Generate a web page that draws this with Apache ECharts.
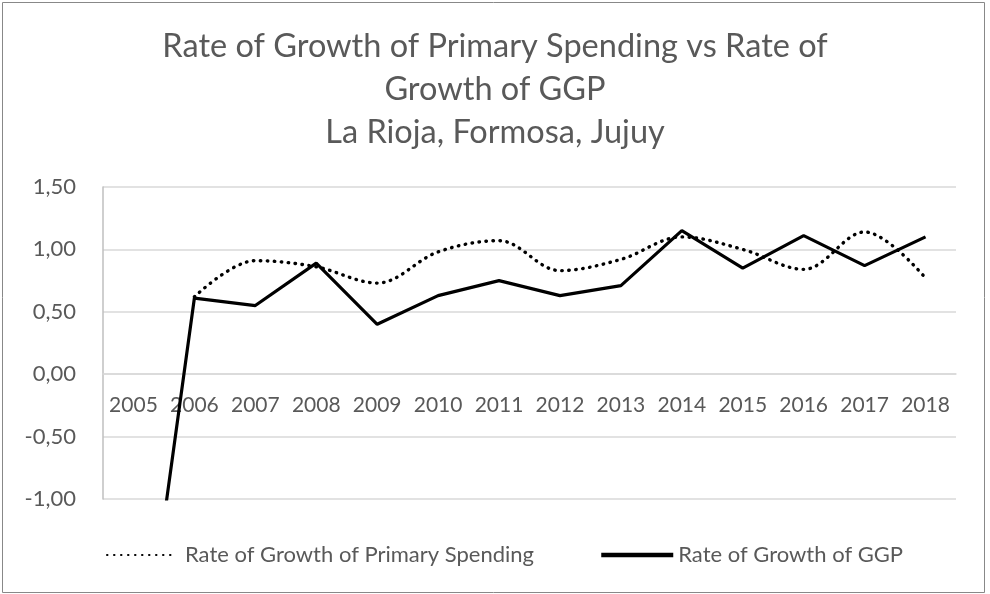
<!DOCTYPE html>
<html>
<head>
<meta charset="utf-8">
<script src="https://cdn.jsdelivr.net/npm/echarts@6/dist/echarts.min.js"></script>
<style>
  html, body { margin: 0; padding: 0; background: #fff; }
  #chart { width: 990px; height: 594px; }
</style>
</head>
<body>
<div id="chart"></div>
<script>
// Years on the category axis
const years = ['2005', '2006', '2007', '2008', '2009', '2010', '2011', '2012',
               '2013', '2014', '2015', '2016', '2017', '2018'];

// Rate of growth of primary spending (no value for 2005)
const primarySpending = [null, 0.62, 0.91, 0.86, 0.73, 0.98, 1.07, 0.83,
                         0.92, 1.10, 1.00, 0.84, 1.14, 0.77];

// Rate of growth of GGP (2005 falls below the axis minimum)
const ggpGrowth = [-2.94, 0.61, 0.55, 0.89, 0.40, 0.63, 0.75, 0.63,
                   0.71, 1.15, 0.85, 1.11, 0.87, 1.10];

// Value axis ticks
const yMin = -1.0, yMax = 1.5, yStep = 0.5;

const titleLines = ['Rate of Growth of Primary Spending vs Rate of',
                    'Growth of GGP',
                    'La Rioja, Formosa, Jujuy'];
const seriesNames = ['Rate of Growth of Primary Spending', 'Rate of Growth of GGP'];

const FONT = 'Lato';
const TEXT = '#595959';
const GRID = '#d9d9d9';

const chart = echarts.init(document.getElementById('chart'), null, { renderer: 'canvas' });

chart.setOption({
  backgroundColor: '#fff',
  animation: false,
  graphic: [{
    type: 'rect',
    shape: { x: 2.5, y: 2.5, width: 982, height: 590 },
    style: { fill: 'none', stroke: '#888', lineWidth: 1 },
    silent: true
  }],
  title: {
    text: titleLines.join('\n'),
    left: 'center',
    top: 20,
    textStyle: {
      fontFamily: FONT, fontWeight: 400, fontSize: 32.5,
      color: TEXT, lineHeight: 43
    }
  },
  legend: [{
    data: [seriesNames[0]],
    left: 101, top: 539,
    itemWidth: 70, itemHeight: 14,
    itemStyle: { opacity: 0 },
    textStyle: { fontFamily: FONT, fontSize: 22, color: TEXT, padding: [0, 0, 0, 3] }
  }, {
    data: [seriesNames[1]],
    left: 594, top: 539,
    itemWidth: 72, itemHeight: 14,
    itemStyle: { opacity: 0 },
    lineStyle: { width: 4.5 },
    textStyle: { fontFamily: FONT, fontSize: 22, color: TEXT }
  }],
  grid: { left: 103, right: 34, top: 187, bottom: 95, containLabel: false },
  xAxis: {
    type: 'category',
    data: years,
    boundaryGap: true,
    axisLine: { onZero: false, lineStyle: { color: GRID, width: 1.5 } },
    axisTick: { show: false },
    axisLabel: { interval: 0, fontFamily: FONT, fontSize: 21, color: TEXT, margin: 21 }
  },
  yAxis: {
    type: 'value',
    min: yMin, max: yMax, interval: yStep,
    axisLine: { show: true, lineStyle: { color: '#bfbfbf', width: 1.5 } },
    axisTick: { show: false },
    splitLine: { lineStyle: { color: GRID, width: 1.5 } },
    axisLabel: {
      fontFamily: FONT, fontSize: 22, color: TEXT, margin: 27,
      formatter: v => v.toFixed(2).replace('.', ',')
    }
  },
  series: [{
    name: seriesNames[0],
    type: 'line',
    data: primarySpending,
    smooth: 0.35,
    symbol: 'none',
    connectNulls: false,
    itemStyle: { color: '#000' },
    lineStyle: { color: '#000', width: 3.4, type: [0.5, 6.5], cap: 'round' },
    z: 2
  }, {
    name: seriesNames[1],
    type: 'line',
    data: ggpGrowth,
    symbol: 'none',
    clip: true,
    itemStyle: { color: '#000' },
    lineStyle: { color: '#000', width: 3.2, type: 'solid' },
    z: 3
  }]
});

// Lift the category axis (line and year labels) up to the zero line
const zeroY = chart.convertToPixel({ yAxisIndex: 0 }, 0);
const bottomY = chart.convertToPixel({ yAxisIndex: 0 }, yMin);
chart.setOption({ xAxis: { offset: -(bottomY - zeroY) } });
</script>
</body>
</html>
